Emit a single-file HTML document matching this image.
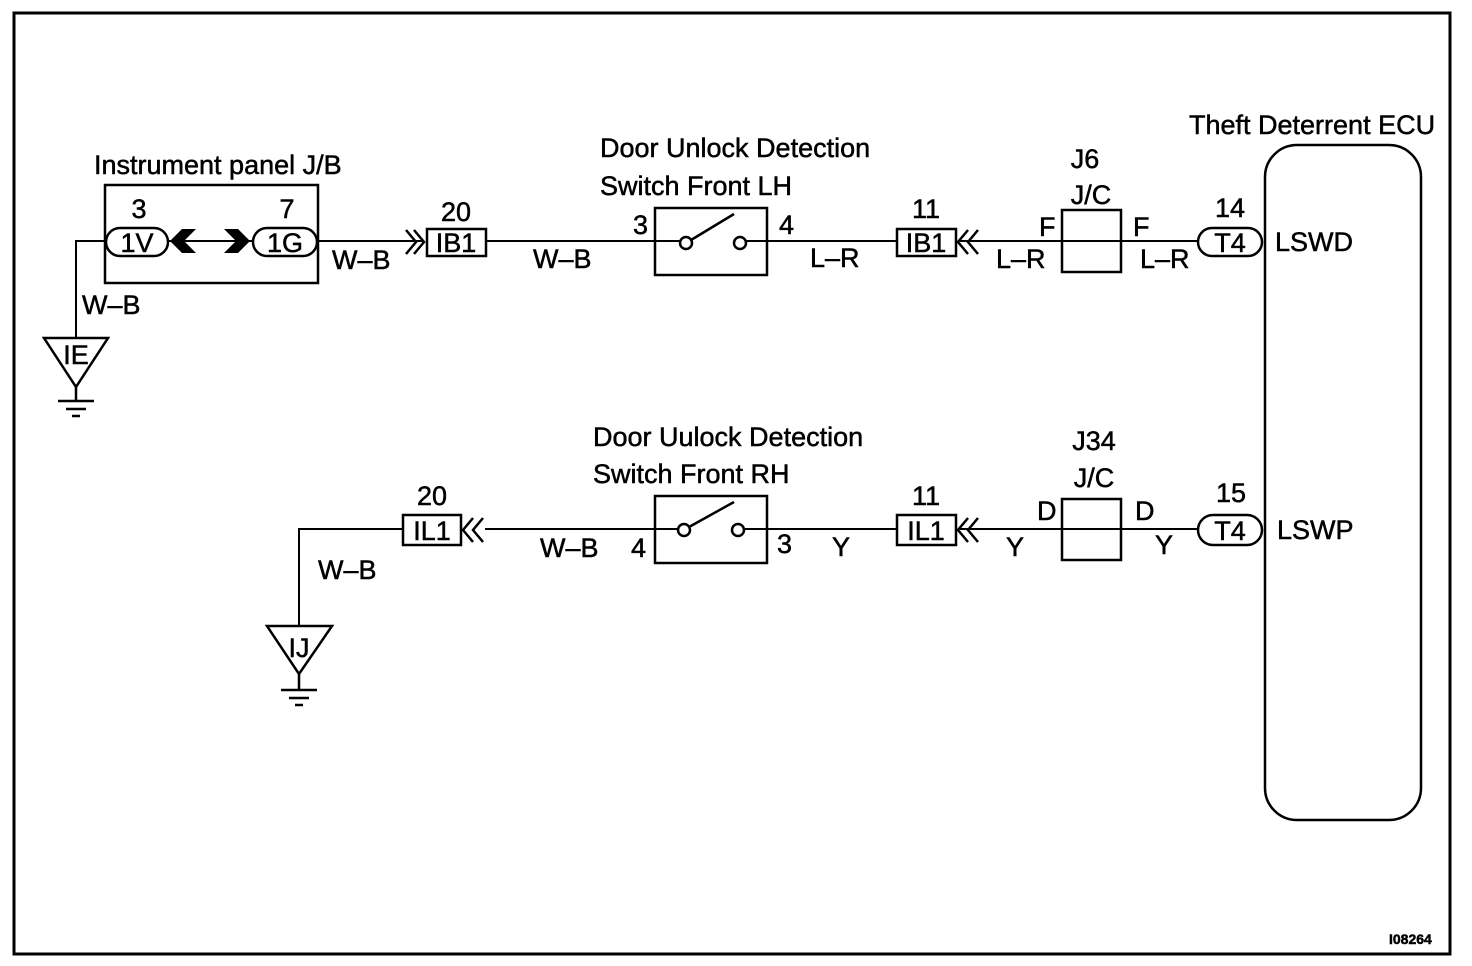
<!DOCTYPE html>
<html><head><style>
html,body{margin:0;padding:0;background:#fff;}
svg{display:block;}
text{font-family:"Liberation Sans",Arial,sans-serif;font-size:27px;fill:#000;stroke:#000;stroke-width:0.5;}
text.c{text-anchor:middle;}
</style></head><body>
<svg width="1472" height="966" viewBox="0 0 1472 966" xmlns="http://www.w3.org/2000/svg">
<g fill="none" stroke="#000">
<rect x="14" y="13" width="1436" height="941" stroke-width="3"/>
<rect x="1265" y="145" width="156" height="675" rx="32" stroke-width="2.5"/>
<rect x="105" y="185" width="213" height="98" stroke-width="2.5"/>
<path d="M76 338 V241 H105" stroke-width="2"/>
<path d="M168 241 H252" stroke-width="2"/>
<path d="M318 241 H424" stroke-width="2"/>
<path d="M486 241 H686" stroke-width="2"/>
<path d="M740 241 H897" stroke-width="2"/>
<path d="M960 241 H1198" stroke-width="2"/>
<rect x="106" y="228" width="62" height="28" rx="14" stroke-width="2.5"/>
<rect x="253" y="228" width="64" height="28" rx="14" stroke-width="2.5"/>
<rect x="1198" y="228" width="64" height="28" rx="14" stroke-width="2.5"/>
<rect x="427" y="229" width="59" height="27" stroke-width="2.5"/>
<rect x="897" y="229" width="59" height="27" stroke-width="2.5"/>
<path d="M406 230 L416 242 L406 254 M414 230 L424 242 L414 254" stroke-width="2.5"/>
<path d="M968 230 L958 242 L968 254 M978 230 L968 242 L978 254" stroke-width="2.5"/>
<rect x="655" y="208" width="112" height="67" stroke-width="2.5"/>
<circle cx="686" cy="243" r="6" fill="#fff" stroke-width="2.5"/>
<circle cx="740" cy="243" r="6" fill="#fff" stroke-width="2.5"/>
<path d="M691 240 L734 214" stroke-width="2.5"/>
<rect x="1062" y="210" width="59" height="62" stroke-width="2.5"/>
<path d="M44 338 H108 L76 387 Z" stroke-width="2.5"/>
<path d="M76 387 V400 M58 401 H94 M66 409 H86 M72 416 H80" stroke-width="2.5"/>
<path d="M299 626 V529 H403" stroke-width="2"/>
<path d="M485 529 H684" stroke-width="2"/>
<path d="M738 529 H897" stroke-width="2"/>
<path d="M960 529 H1198" stroke-width="2"/>
<rect x="403" y="515" width="58" height="30" stroke-width="2.5"/>
<rect x="897" y="515" width="59" height="30" stroke-width="2.5"/>
<path d="M473 518 L463 530 L473 542 M483 518 L473 530 L483 542" stroke-width="2.5"/>
<path d="M968 518 L958 530 L968 542 M978 518 L968 530 L978 542" stroke-width="2.5"/>
<rect x="655" y="496" width="112" height="67" stroke-width="2.5"/>
<circle cx="684" cy="530" r="6" fill="#fff" stroke-width="2.5"/>
<circle cx="738" cy="530" r="6" fill="#fff" stroke-width="2.5"/>
<path d="M689 527 L734 502" stroke-width="2.5"/>
<rect x="1062" y="499" width="59" height="61" stroke-width="2.5"/>
<rect x="1198" y="515" width="64" height="30" rx="15" stroke-width="2.5"/>
<path d="M267 626 H332 L299 674 Z" stroke-width="2.5"/>
<path d="M299 674 V689 M281 690 H317 M289 698 H309 M295 705 H303" stroke-width="2.5"/>
</g>
<path d="M170 241 L182 229 H196 L184 241 L196 253 H182 Z" fill="#000"/>
<path d="M250 241 L238 229 H224 L236 241 L224 253 H238 Z" fill="#000"/>
<text x="94" y="174">Instrument panel J/B</text>
<text x="139" y="218" class="c">3</text>
<text x="287" y="218" class="c">7</text>
<text x="137" y="252" class="c">1V</text>
<text x="285" y="252" class="c">1G</text>
<text x="332" y="269">W–B</text>
<text x="82" y="314">W–B</text>
<text x="76" y="364" class="c">IE</text>
<text x="456" y="221" class="c">20</text>
<text x="456" y="252" class="c">IB1</text>
<text x="533" y="268">W–B</text>
<text x="600" y="157">Door Unlock Detection</text>
<text x="600" y="195">Switch Front LH</text>
<text x="633" y="234">3</text>
<text x="779" y="234">4</text>
<text x="810" y="267">L–R</text>
<text x="926" y="218" class="c">11</text>
<text x="926" y="252" class="c">IB1</text>
<text x="996" y="268">L–R</text>
<text x="1039" y="236">F</text>
<text x="1133" y="236">F</text>
<text x="1140" y="268">L–R</text>
<text x="1085" y="168" class="c">J6</text>
<text x="1091" y="204" class="c">J/C</text>
<text x="1230" y="217" class="c">14</text>
<text x="1230" y="252" class="c">T4</text>
<text x="1275" y="251">LSWD</text>
<text x="1189" y="134">Theft Deterrent ECU</text>
<text x="593" y="446">Door Uulock Detection</text>
<text x="593" y="483">Switch Front RH</text>
<text x="432" y="505" class="c">20</text>
<text x="432" y="540" class="c">IL1</text>
<text x="318" y="579">W–B</text>
<text x="299" y="657" class="c">IJ</text>
<text x="540" y="557">W–B</text>
<text x="631" y="557">4</text>
<text x="777" y="553">3</text>
<text x="832" y="556">Y</text>
<text x="926" y="505" class="c">11</text>
<text x="926" y="540" class="c">IL1</text>
<text x="1006" y="556">Y</text>
<text x="1037" y="520">D</text>
<text x="1135" y="520">D</text>
<text x="1155" y="554">Y</text>
<text x="1094" y="450" class="c">J34</text>
<text x="1094" y="487" class="c">J/C</text>
<text x="1231" y="502" class="c">15</text>
<text x="1230" y="540" class="c">T4</text>
<text x="1277" y="539">LSWP</text>
<text x="1389" y="944" style="font-size:14px;font-weight:bold">I08264</text>
</svg>
</body></html>
